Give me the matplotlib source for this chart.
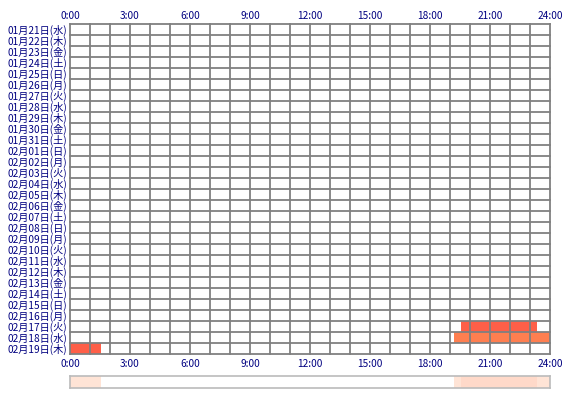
import matplotlib
matplotlib.use("Agg")
import matplotlib.pyplot as plt
from matplotlib.patches import Rectangle

plt.rcParams['font.family'] = ['Noto Sans CJK JP', 'DejaVu Sans']

days = ["01月21日(水)", "01月22日(木)", "01月23日(金)", "01月24日(土)", "01月25日(日)",
        "01月26日(月)", "01月27日(火)", "01月28日(水)", "01月29日(木)", "01月30日(金)",
        "01月31日(土)", "02月01日(日)", "02月02日(月)", "02月03日(火)", "02月04日(水)",
        "02月05日(木)", "02月06日(金)", "02月07日(土)", "02月08日(日)", "02月09日(月)",
        "02月10日(火)", "02月11日(水)", "02月12日(木)", "02月13日(金)", "02月14日(土)",
        "02月15日(日)", "02月16日(月)", "02月17日(火)", "02月18日(水)", "02月19日(木)"]
hour_ticks = [0, 3, 6, 9, 12, 15, 18, 21, 24]
hour_labels = ["0:00", "3:00", "6:00", "9:00", "12:00", "15:00", "18:00", "21:00", "24:00"]

# sessions: day label, start hour, end hour
bar_days = ["02月17日(火)", "02月18日(水)", "02月19日(木)"]
bar_start = [19.55, 19.2, 0.0]
bar_end = [23.35, 24.0, 1.53]
bar_colors = ["#FF5F48", "#FF7F50", "#FF5F48"]

# summary strip segments
strip_start = [0.0, 19.2, 19.55, 23.35]
strip_end = [1.53, 19.55, 23.35, 24.0]
strip_colors = ["#FFE4D6", "#FFE4D6", "#FFD9C9", "#FFE4D6"]

W, H = 570, 400
fig = plt.figure(figsize=(W / 100, H / 100), dpi=100)
navy = "#000080"
grid_c = "#808080"

ax = fig.add_axes([70 / W, 1 - 354 / H, 480 / W, 330 / H])
n = len(days)
ax.set_xlim(0, 24)
ax.set_ylim(n, 0)
for d, s, e, c in zip(bar_days, bar_start, bar_end, bar_colors):
    i = days.index(d)
    ax.add_patch(Rectangle((s, i), e - s, 1, facecolor=c, edgecolor='none', zorder=1))
for h in range(25):
    ax.axvline(h, color=grid_c, lw=1.3, zorder=2, clip_on=False)
for r in range(n + 1):
    ax.axhline(r, color=grid_c, lw=1.3, zorder=2, clip_on=False)
for sp in ax.spines.values():
    sp.set_visible(False)
ax.set_yticks([i + 0.5 for i in range(n)])
ax.set_yticklabels(days, fontsize=7.3, color=navy)
ax.set_xticks(hour_ticks)
ax.set_xticklabels(hour_labels, fontsize=7.3, color=navy)
ax.tick_params(axis='both', length=0, pad=2)
ax.tick_params(axis='x', top=True, labeltop=True, bottom=False, labelbottom=False, pad=2)
for h, lab in zip(hour_ticks, hour_labels):
    ax.text(h, n + 0.95, lab, ha='center', va='center', fontsize=7.3, color=navy, clip_on=False)

ax2 = fig.add_axes([70 / W, 1 - 388 / H, 480 / W, 12 / H])
ax2.set_xlim(0, 24)
ax2.set_ylim(0, 1)
for s, e, c in zip(strip_start, strip_end, strip_colors):
    ax2.add_patch(Rectangle((s, 0), e - s, 1, facecolor=c, edgecolor='none'))
ax2.set_xticks([])
ax2.set_yticks([])
for sp in ax2.spines.values():
    sp.set_color("#BBBBBB")
    sp.set_linewidth(1.2)

fig.savefig("out.png", dpi=100)
